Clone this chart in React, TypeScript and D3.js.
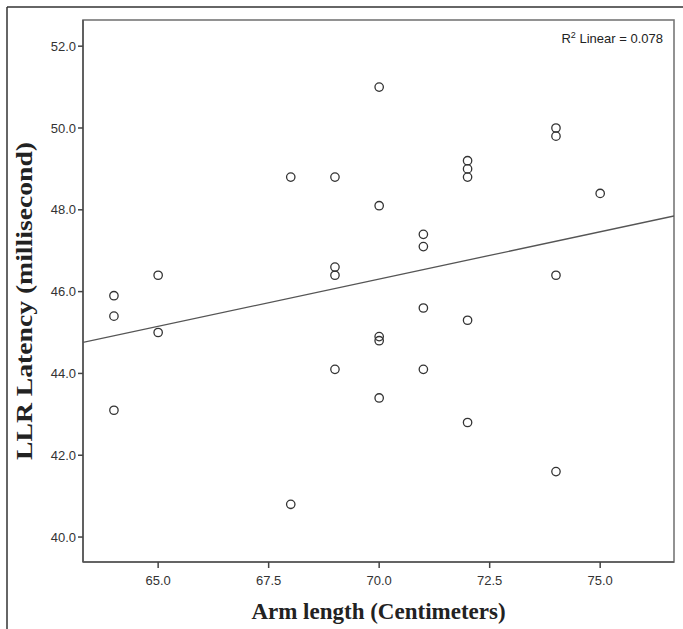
import React from "react";
import * as d3 from "d3";

const armLength = [64, 64, 64, 65, 65, 68, 68, 69, 69, 69, 69, 70, 70, 70, 70, 70, 71, 71, 71, 71, 72, 72, 72, 72, 72, 74, 74, 74, 74, 75];
const latency = [45.9, 45.4, 43.1, 46.4, 45.0, 48.8, 40.8, 48.8, 46.6, 46.4, 44.1, 51.0, 48.1, 44.9, 44.8, 43.4, 47.4, 47.1, 45.6, 44.1, 49.2, 49.0, 48.8, 45.3, 42.8, 50.0, 49.8, 46.4, 41.6, 48.4];
const xTicks = [65.0, 67.5, 70.0, 72.5, 75.0];
const yTicks = [40.0, 42.0, 44.0, 46.0, 48.0, 50.0, 52.0];
const xDomain = [63.3, 76.67];
const yDomain = [39.39, 52.64];
const xTitle = "Arm length (Centimeters)";
const yTitle = "LLR Latency (millisecond)";
const r2Label = "0.078";

export default function App() {
  const W = 683, H = 629;
  const left = 83, right = 674, top = 20, bottom = 562;
  const x = d3.scaleLinear().domain(xDomain).range([left, right]);
  const y = d3.scaleLinear().domain(yDomain).range([bottom, top]);

  const mx = d3.mean(armLength) as number;
  const my = d3.mean(latency) as number;
  let sxy = 0, sxx = 0;
  armLength.forEach((v, i) => {
    sxy += (v - mx) * (latency[i] - my);
    sxx += (v - mx) * (v - mx);
  });
  const slope = sxy / sxx;
  const intercept = my - slope * mx;
  const line = d3.line<number>().x((d) => x(d)).y((d) => y(intercept + slope * d));
  const lineD = line(xDomain) as string;

  const tickFont = "'Liberation Sans', Arial, sans-serif";
  const serif = "'Liberation Serif', 'Times New Roman', serif";

  return (
    <div style={{ position: "absolute", left: 0, top: 0 }}>
      <svg width={W} height={H} style={{ display: "block", background: "#fff" }}>
        {/* outer figure frame */}
        <line x1={7} y1={7} x2={W} y2={7} stroke="#333" strokeWidth={1.5} />
        <line x1={7} y1={7} x2={7} y2={H} stroke="#333" strokeWidth={1.5} />

        <defs>
          <clipPath id="plotClip">
            <rect x={left} y={top} width={right - left} height={bottom - top} />
          </clipPath>
        </defs>

        {/* plot frame */}
        <rect x={left} y={top} width={right - left} height={bottom - top} fill="none" stroke="#777" strokeWidth={1.6} />
        <line x1={left} y1={top} x2={left} y2={bottom} stroke="#555" strokeWidth={1.6} />
        <line x1={left} y1={bottom} x2={right} y2={bottom} stroke="#555" strokeWidth={1.6} />

        {/* y ticks */}
        {yTicks.map((t) => (
          <g key={"y" + t}>
            <line x1={left - 5} x2={left} y1={y(t)} y2={y(t)} stroke="#444" strokeWidth={1.5} />
            <text x={left - 7} y={y(t)} dy="0.35em" textAnchor="end" fontFamily={tickFont} fontSize={13} fill="#333">
              {t.toFixed(1)}
            </text>
          </g>
        ))}

        {/* x ticks */}
        {xTicks.map((t) => (
          <g key={"x" + t}>
            <line x1={x(t)} x2={x(t)} y1={bottom} y2={bottom + 6} stroke="#444" strokeWidth={1.5} />
            <text x={x(t)} y={bottom + 23} textAnchor="middle" fontFamily={tickFont} fontSize={13} fill="#333">
              {t.toFixed(1)}
            </text>
          </g>
        ))}

        {/* regression line */}
        <path d={lineD} fill="none" stroke="#555" strokeWidth={1.3} clipPath="url(#plotClip)" />

        {/* points */}
        {armLength.map((v, i) => (
          <circle key={i} cx={x(v)} cy={y(latency[i])} r={4.2} fill="none" stroke="#333" strokeWidth={1.3} />
        ))}

        {/* R2 label */}
        <text x={663} y={43} textAnchor="end" fontFamily={tickFont} fontSize={13} fill="#222">
          R<tspan dy={-5} fontSize={9}>2</tspan><tspan dy={5}> Linear = {r2Label}</tspan>
        </text>

        {/* axis titles */}
        <text x={(left + right) / 2} y={619} textAnchor="middle" fontFamily={serif} fontWeight="bold" fontSize={23} fill="#222">
          {xTitle}
        </text>
        <text
          transform={`translate(32, ${(top + bottom) / 2 + 10}) rotate(-90)`}
          textAnchor="middle"
          fontFamily={serif}
          fontWeight="bold"
          fontSize={23}
          textLength={318}
          lengthAdjust="spacingAndGlyphs"
          fill="#222"
        >
          {yTitle}
        </text>
      </svg>
    </div>
  );
}
